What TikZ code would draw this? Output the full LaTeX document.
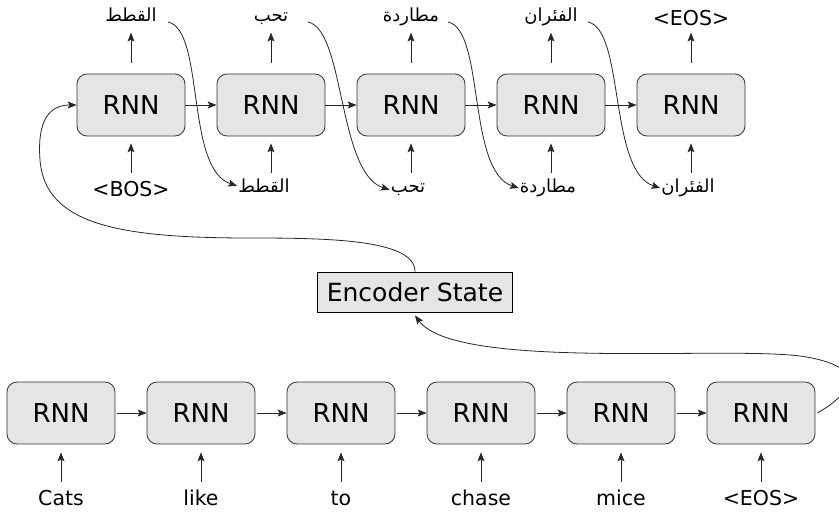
\documentclass[tikz,border=0pt]{standalone}
\usepackage{fontspec}
\setmainfont{DejaVu Sans}
\newfontfamily\arabicfont[Script=Arabic]{DejaVu Sans}
\TeXXeTstate=1
\usetikzlibrary{arrows.meta,calc}

\begin{document}
\begin{tikzpicture}[x=1pt,y=-1pt,
  rnn/.style={draw=black!80, fill=black!10, rounded corners=10pt,
    minimum width=108pt, minimum height=62pt, inner sep=0pt,
    line width=0.8pt, font=\fontsize{26}{30}\selectfont},
  state/.style={draw=black, fill=black!10, minimum width=195pt,
    minimum height=40pt, inner sep=0pt, line width=0.8pt,
    font=\fontsize{25}{30}\selectfont},
  tok/.style={anchor=base, inner sep=0pt, font=\fontsize{20.5}{24}\selectfont},
  artok/.style={anchor=base, inner sep=0pt, font=\fontsize{18}{21}\arabicfont},
  link/.style={-{Stealth[length=9pt,width=7pt,inset=2pt]},
    line width=0.8pt, draw=black!85},
]
\useasboundingbox (0,0) rectangle (839,513);

% decoder row
\foreach \i in {1,...,5}
  \node[rnn] (d\i) at ({131+140*(\i-1)},105) {RNN};

% encoder row
\foreach \i in {1,...,6}
  \node[rnn] (e\i) at ({61+140*(\i-1)},413) {RNN};

\node[state] (enc) at (415,292) {Encoder State};

% decoder outputs
\node[artok] (o1) at (131,22) {\beginR القطط\endR};
\node[artok] (o2) at (271,22) {\beginR تحب\endR};
\node[artok] (o3) at (411,22) {\beginR مطاردة\endR};
\node[artok] (o4) at (551,22) {\beginR الفئران\endR};
\node[tok]   (o5) at (691,26) {<EOS>};

% decoder inputs
\node[tok]   (i1) at (131,197) {<BOS>};
\node[artok] (i2) at (264,193) {\beginR القطط\endR};
\node[artok] (i3) at (408,193) {\beginR تحب\endR};
\node[artok] (i4) at (548,193) {\beginR مطاردة\endR};
\node[artok] (i5) at (688,193) {\beginR الفئران\endR};

% encoder inputs
\node[tok] (w1) at (61,505)  {Cats};
\node[tok] (w2) at (201,505) {like};
\node[tok] (w3) at (341,505) {to};
\node[tok] (w4) at (481,505) {chase};
\node[tok] (w5) at (621,505) {mice};
\node[tok] (w6) at (761,505) {<EOS>};

% recurrent links
\foreach \i/\j in {1/2,2/3,3/4,4/5}
  \draw[link] (d\i.east) -- (d\j.west);
\foreach \i/\j in {1/2,2/3,3/4,4/5,5/6}
  \draw[link, shorten <=2pt] (e\i.east) -- (e\j.west);

% vertical arrows
\foreach \i in {1,...,5}{
  \draw[link] ([yshift=11pt]d\i.north) -- ([yshift=41pt]d\i.north);
  \draw[link] ([yshift=-37pt]d\i.south) -- ([yshift=-7pt]d\i.south);
}
\foreach \i in {1,...,6}
  \draw[link] ([yshift=-38pt]e\i.south) -- ([yshift=-8pt]e\i.south);

% each output is fed back as the next input
\foreach \i/\j in {1/2,2/3,3/4,4/5}{
  \coordinate (f\i) at ($(d\i.center)+(37,-83)$);
  \draw[link, shorten >=1pt] (f\i) .. controls +(37,8) and +(-53,-17) .. (i\j.west);
}

% encoder state handed to the decoder
\draw[link] (enc.north) .. controls +(0,-32) and +(80,0) .. (250,238)
  .. controls +(-130,0) and +(5,65) .. (40,160)
  .. controls +(-3,-40) and +(-27,0) .. (d1.west);

% last encoder step produces the state
\draw[link] ([xshift=2pt]e6.east) .. controls +(35,-20) and +(70,10) .. (800,356)
  .. controls +(-80,-10) and +(40,55) .. ([yshift=-3pt]enc.south);
\end{tikzpicture}
\end{document}
